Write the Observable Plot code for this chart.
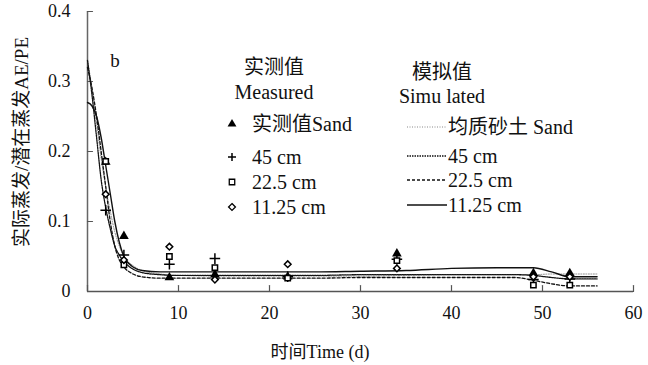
<!DOCTYPE html>
<html><head><meta charset="utf-8">
<script src="https://cdn.jsdelivr.net/npm/d3@7"></script>
<script src="https://cdn.jsdelivr.net/npm/@observablehq/plot@0.6"></script>
<style>
html,body{margin:0;padding:0;background:#fff;}
#chart{width:648px;height:365px;}
svg text{font-family:"Liberation Serif","Noto Sans CJK SC",serif;}
</style></head>
<body><div id="chart"></div>
<script>
// Measured values (days after start)
const measDays = [2, 4, 9, 14, 22, 34, 49, 53];
const measSand = [0.185, 0.079, 0.020, 0.024, 0.021, 0.054, 0.026, 0.026];
const meas45   = [0.116, 0.052, 0.039, 0.047, 0.021, 0.046, 0.017, 0.018];
const meas225  = [0.186, 0.038, 0.050, 0.034, 0.019, 0.044, 0.009, 0.009];
const meas1125 = [0.139, 0.045, 0.064, 0.017, 0.039, 0.033, 0.021, 0.021];

// Simulated values
const simDays = [0,0.5,1,1.5,2,2.5,3,3.5,4,5,6,8,10,15,20,25,30,35,40,45,47,49,51,53,56];
const simSand = [0.33,0.29,0.24,0.19,0.15,0.115,0.085,0.065,0.05,0.037,0.03,0.025,0.023,0.022,0.022,0.022,0.022,0.023,0.024,0.024,0.024,0.024,0.025,0.025,0.025];
const sim45   = [0.33,0.28,0.22,0.16,0.12,0.09,0.065,0.052,0.043,0.032,0.027,0.024,0.023,0.023,0.023,0.023,0.024,0.024,0.024,0.024,0.024,0.023,0.020,0.018,0.018];
const sim225  = [0.32,0.29,0.25,0.20,0.15,0.10,0.065,0.045,0.035,0.025,0.021,0.019,0.019,0.019,0.019,0.019,0.020,0.020,0.020,0.020,0.020,0.016,0.011,0.008,0.008];
const sim1125 = [0.27,0.265,0.25,0.22,0.18,0.14,0.10,0.07,0.05,0.035,0.030,0.028,0.028,0.028,0.028,0.028,0.029,0.030,0.033,0.034,0.034,0.034,0.028,0.021,0.021];

const xTicks = [0, 10, 20, 30, 40, 50, 60];
const yTicks = [0, 0.1, 0.2, 0.3, 0.4];

const measLabels = ["实测值Sand", "45 cm", "22.5 cm", "11.25 cm"];
const simLabels = ["均质砂土 Sand", "45 cm", "22.5 cm", "11.25 cm"];

const toPts = (xs, ys) => xs.map((x, i) => ({x, y: ys[i]}));

const simStyles = [
  {data: simSand, stroke: "#888", strokeWidth: 1, dash: "1,1.5"},
  {data: sim45, stroke: "#111", strokeWidth: 1.3, dash: "1.5,1"},
  {data: sim225, stroke: "#111", strokeWidth: 1.3, dash: "3,2"},
  {data: sim1125, stroke: "#111", strokeWidth: 1.4, dash: null}
];

const tickShapeUp = {draw(ctx, l) { ctx.moveTo(0, 0); ctx.lineTo(0, -l); }};

const chart = Plot.plot({
  width: 648, height: 365,
  marginLeft: 87, marginRight: 15, marginTop: 11, marginBottom: 74,
  style: {fontFamily: '"Liberation Serif","Noto Sans CJK SC",serif', color: "#111", background: "#fff"},
  x: {domain: [0, 60]},
  y: {domain: [0, 0.4]},
  marks: [
    Plot.ruleX([0], {stroke: "#666", strokeWidth: 1.5}),
    Plot.ruleY([0], {stroke: "#555", strokeWidth: 1.5}),
    // inward tick marks
    Plot.vector(yTicks, {x: 0, y: d => d, length: 5, rotate: 90, anchor: "start", shape: tickShapeUp, stroke: "#555", strokeWidth: 1.2}),
    Plot.vector(xTicks, {x: d => d, y: 0, length: 6, anchor: "start", shape: tickShapeUp, stroke: "#555", strokeWidth: 1.2}),
    Plot.axisY(yTicks, {tickSize: 0, tickPadding: 17, fontSize: 18, label: null, tickFormat: d => d === 0 ? "0" : d3.format(".1f")(d)}),
    Plot.axisX(xTicks, {tickSize: 0, tickPadding: 15, fontSize: 18, label: null}),
    ...simStyles.map(s => Plot.line(toPts(simDays, s.data), {x: "x", y: "y", curve: "monotone-x", stroke: s.stroke, strokeWidth: s.strokeWidth, strokeDasharray: s.dash})),
    Plot.dot(toPts(measDays, measSand), {x: "x", y: "y", symbol: "triangle", r: 3.6, fill: "#000"}),
    Plot.dot(toPts(measDays, meas45), {x: "x", y: "y", symbol: "plus", r: 3.5, stroke: "#000", strokeWidth: 1.5}),
    Plot.dot(toPts(measDays, meas225), {x: "x", y: "y", symbol: "square2", r: 3.4, stroke: "#000", strokeWidth: 1.5, fill: "#fff"}),
    Plot.dot(toPts(measDays, meas1125), {x: "x", y: "y", symbol: "diamond2", r: 3.0, stroke: "#000", strokeWidth: 1.5, fill: "#fff"})
  ]
});
document.getElementById("chart").appendChild(chart);

// Annotations and legend (layout only)
const svg = d3.select(chart);
const T = (x, y, txt, size, anchor = "middle") =>
  svg.append("text").attr("x", x).attr("y", y).attr("text-anchor", anchor)
    .attr("dominant-baseline", "central").attr("font-size", size).attr("fill", "#111").text(txt);

T(320, 352, "时间Time (d)", 18);
svg.append("text").attr("transform", "translate(21,142) rotate(-90)")
  .attr("text-anchor", "middle").attr("dominant-baseline", "central")
  .attr("font-size", 19).attr("fill", "#111").text("实际蒸发/潜在蒸发AE/PE");
T(115, 60, "b", 19);

T(274, 67, "实测值", 20);
T(274, 92, "Measured", 20);
T(442, 72, "模拟值", 20);
T(442, 96, "Simu lated", 20);

const leftRowsY = [124, 157, 182, 207];
const rightRowsY = [127, 156, 180, 205];
const syms = [
  {sym: d3.symbolTriangle, size: 34, fill: "#000", stroke: "none"},
  {sym: d3.symbolPlus, size: 0, plus: true},
  {sym: d3.symbolSquare2, size: 38, fill: "#fff", stroke: "#000"},
  {sym: d3.symbolDiamond2, size: 30, fill: "#fff", stroke: "#000"}
];
measLabels.forEach((lab, i) => {
  const y = leftRowsY[i];
  const s = syms[i];
  if (s.plus) {
    svg.append("path").attr("d", `M${232-4},${y}H${232+4}M232,${y-4}V${y+4}`).attr("stroke", "#000").attr("stroke-width", 1.5);
  } else {
    svg.append("path").attr("transform", `translate(232,${y})`)
      .attr("d", d3.symbol(s.sym, s.size)()).attr("fill", s.fill).attr("stroke", s.stroke).attr("stroke-width", 1.3);
  }
  T(252, y, lab, 20, "start");
});
simLabels.forEach((lab, i) => {
  const y = rightRowsY[i];
  const s = simStyles[i];
  svg.append("line").attr("x1", 407).attr("x2", 447).attr("y1", y).attr("y2", y)
    .attr("stroke", s.stroke).attr("stroke-width", s.strokeWidth).attr("stroke-dasharray", s.dash);
  T(448, y, lab, 20, "start");
});
</script>
</body></html>
